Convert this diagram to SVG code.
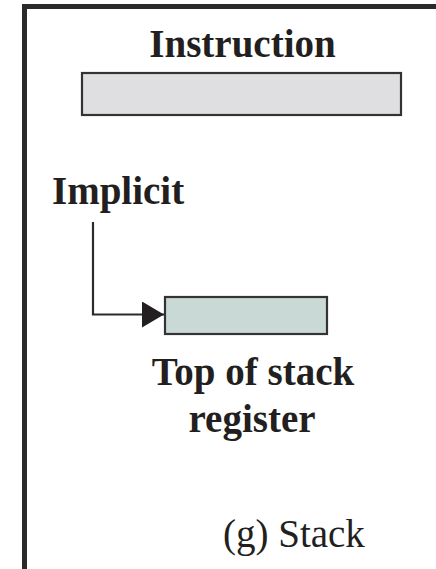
<svg xmlns="http://www.w3.org/2000/svg" width="436" height="569" viewBox="0 0 436 569">
<style>
text{font-family:"Liberation Serif","Times New Roman",serif;font-size:39px;fill:#231f20}
.b{font-weight:bold}
.box{stroke:#333;stroke-width:2.2}
.conn{fill:none;stroke:#2b2b2b;stroke-width:2.2}
</style>
<defs>
<marker id="ah" markerUnits="userSpaceOnUse" markerWidth="24" markerHeight="28" refX="23" refY="13" orient="auto">
<path d="M1,0 L23,13 L1,26 Z" fill="#231f20"/>
</marker>
</defs>
<rect width="436" height="569" fill="#fff"/>
<g id="frame" fill="none" stroke="#2a2a2a" stroke-width="5">
<path d="M24.5,569 V6.5 H436"/>
</g>
<g id="instruction">
<text class="b" x="242.5" y="57" text-anchor="middle">Instruction</text>
<rect class="box" x="82" y="73" width="319" height="42" fill="#dfdfe1"/>
</g>
<g id="implicit">
<text class="b" x="52" y="204">Implicit</text>
</g>
<g id="register">
<rect class="box" x="165" y="297" width="162" height="37" fill="#c9d9d6"/>
<text class="b" x="253" y="385" text-anchor="middle">Top of stack</text>
<text class="b" x="252" y="432" text-anchor="middle">register</text>
</g>
<g id="connectors">
<path class="conn" d="M93,222 V314.5 H164" marker-end="url(#ah)"/>
</g>
<g id="caption">
<text x="223" y="547">(g) Stack</text>
</g>
</svg>
